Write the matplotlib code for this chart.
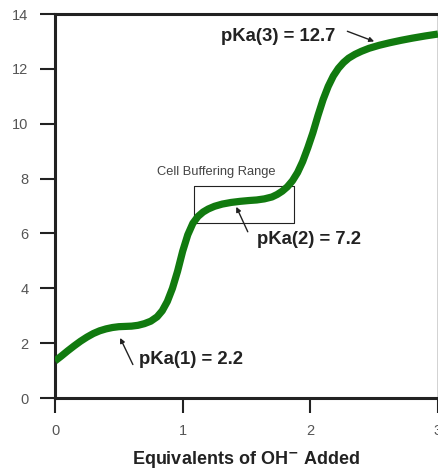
import matplotlib.pyplot as plt

plt.rcParams['font.family'] = ['Liberation Sans', 'DejaVu Sans']

# titration curve
equivalents = [0.00, 0.05, 0.10, 0.15, 0.20, 0.25, 0.30, 0.35, 0.40, 0.45,
               0.50, 0.55, 0.60, 0.65, 0.70, 0.75, 0.80, 0.84, 0.88, 0.92,
               0.96, 1.00, 1.04, 1.08, 1.12, 1.16, 1.20, 1.25, 1.31, 1.38,
               1.45, 1.52, 1.58, 1.64, 1.70, 1.74, 1.78, 1.82, 1.86, 1.90,
               1.94, 1.98, 2.02, 2.06, 2.10, 2.14, 2.18, 2.22, 2.26, 2.30,
               2.35, 2.40, 2.46, 2.54, 2.62, 2.71, 2.80, 2.90, 3.00]
ph = [1.35, 1.53, 1.72, 1.90, 2.07, 2.22, 2.35, 2.45, 2.52, 2.57,
      2.60, 2.61, 2.62, 2.65, 2.71, 2.80, 2.96, 3.18, 3.52, 4.00,
      4.62, 5.35, 5.95, 6.37, 6.62, 6.78, 6.89, 6.99, 7.07, 7.13,
      7.17, 7.20, 7.22, 7.26, 7.33, 7.42, 7.54, 7.70, 7.92, 8.22,
      8.62, 9.12, 9.67, 10.30, 10.88, 11.36, 11.74, 12.02, 12.23, 12.39,
      12.53, 12.64, 12.75, 12.86, 12.95, 13.04, 13.12, 13.20, 13.27]

x_ticks = [0, 1, 2, 3]
y_ticks = [0, 2, 4, 6, 8, 10, 12, 14]

# buffering box: x0, x1, y0, y1
box_x = [1.09, 1.87]
box_y = [6.39, 7.72]

# pKa annotations: label, text position, arrow tail, arrow head
pka_labels = ['pKa(1) = 2.2', 'pKa(2) = 7.2', 'pKa(3) = 12.7']
pka_text = [(0.66, 1.42), (1.58, 5.77), (1.30, 13.18)]
pka_tail = [(0.61, 1.22), (1.51, 6.06), (2.29, 13.37)]
pka_head = [(0.51, 2.19), (1.42, 6.97), (2.50, 13.0)]

fig = plt.figure(figsize=(4.39, 4.70), dpi=100)
ax = fig.add_axes([55 / 439, 72 / 470, 383 / 439, 384 / 470])

ax.plot(equivalents, ph, color='#117a0f', linewidth=5.2,
        solid_capstyle='butt', solid_joinstyle='round', zorder=3)

ax.plot([box_x[0], box_x[1], box_x[1], box_x[0], box_x[0]],
        [box_y[0], box_y[0], box_y[1], box_y[1], box_y[0]],
        color='#222222', linewidth=0.8, zorder=2)
ax.text(1.26, box_y[1] + 0.3, 'Cell Buffering Range',
        ha='center', va='bottom', fontsize=9.3, color='#444444')

for label, txt, tail, head in zip(pka_labels, pka_text, pka_tail, pka_head):
    ax.annotate('', xy=head, xytext=tail,
                arrowprops=dict(arrowstyle='-|>', color='#222222', lw=1.0,
                                mutation_scale=7, shrinkA=0, shrinkB=0))
    ax.text(txt[0], txt[1], label, ha='left', va='center',
            fontsize=13.3, fontweight='bold', color='#222222')

ax.set_xlim(0, 3)
ax.set_ylim(0, 14)
ax.set_xticks(x_ticks)
ax.set_yticks(y_ticks)
ax.tick_params(direction='out', length=11, width=1.5, color='#222222',
               labelcolor='#555555', labelsize=10.5, pad=8)

for side in ['left', 'bottom', 'top']:
    ax.spines[side].set_linewidth(2.2)
    ax.spines[side].set_color('#222222')
ax.spines['right'].set_linewidth(1.0)
ax.spines['right'].set_color('#222222')

ax.set_xlabel('Equivalents of OH$^{\\mathbf{-}}$ Added', fontsize=13,
              fontweight='bold', color='#222222', labelpad=8)

fig.savefig('out.png', dpi=100)
